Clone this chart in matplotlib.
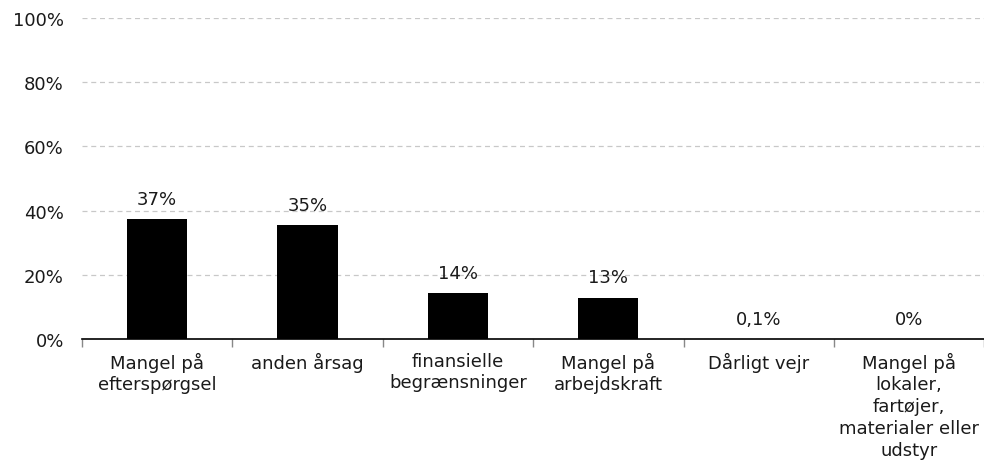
import matplotlib
matplotlib.use("Agg")
import matplotlib.pyplot as plt
import numpy as np

# Data
kategorier = ["Mangel på\nefterspørgsel", "anden årsag", "finansielle\nbegrænsninger",
              "Mangel på\narbejdskraft", "Dårligt vejr",
              "Mangel på\nlokaler,\nfartøjer,\nmaterialer eller\nudstyr"]
andele = [37.4, 35.5, 14.3, 12.9, 0.1, 0.0]
etiketter = ["37%", "35%", "14%", "13%", "0,1%", "0%"]
yticks = [0, 20, 40, 60, 80, 100]

plt.rcParams['font.family'] = 'DejaVu Sans'
fs = 13

fig = plt.figure(figsize=(9.84, 4.64), dpi=100)
ax = fig.add_axes([0.0833, 0.267, 0.917, 0.692])

x = np.arange(len(kategorier))
ax.bar(x, andele, width=0.4, color='black', zorder=3)

for xi, v, lab in zip(x, andele, etiketter):
    ax.annotate(lab, (xi, v), xytext=(0, 11), textcoords='offset points',
                ha='center', va='baseline', fontsize=fs, color='#1a1a1a')

ax.set_xlim(-0.5, len(kategorier) - 0.5)
ax.set_ylim(0, 100)
ax.set_yticks(yticks)
ax.set_yticklabels([f"{t}%" for t in yticks], fontsize=fs, color='#1a1a1a')
ax.tick_params(axis='y', length=0, pad=13)
ax.grid(axis='y', color='#c8c8c8', linestyle=(0, (4, 3)), linewidth=0.9, zorder=0)

# x ticks between categories, labels centered
ax.set_xticks(x)
ax.set_xticklabels(kategorier, fontsize=fs, color='#1a1a1a', linespacing=1.27)
ax.tick_params(axis='x', length=0, pad=9)
ax.set_xticks(np.arange(-0.5, len(kategorier), 1), minor=True)
ax.tick_params(axis='x', which='minor', length=6, width=1, color='#888888', direction='out')

for s in ['left', 'right', 'top']:
    ax.spines[s].set_visible(False)
ax.spines['bottom'].set_color('black')
ax.spines['bottom'].set_linewidth(1.2)
ax.spines['bottom'].set_zorder(4)

plt.savefig("out.png", dpi=100)
